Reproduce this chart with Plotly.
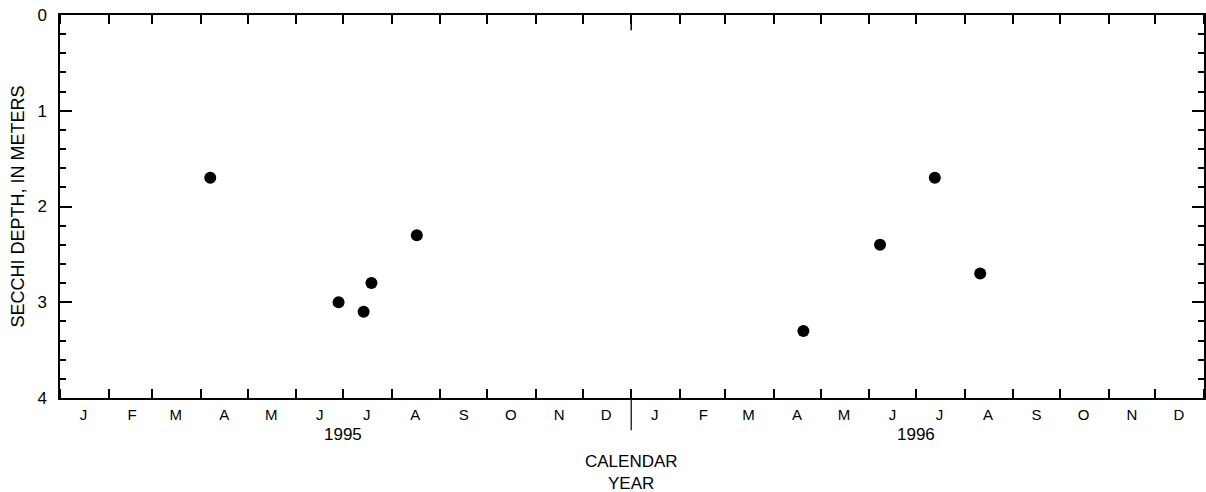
import plotly.graph_objects as go

dates = ["1995-04-07", "1995-06-28", "1995-07-14", "1995-07-19", "1995-08-17",
         "1996-04-20", "1996-06-08", "1996-07-13", "1996-08-11"]
depth = [1.7, 3.0, 3.1, 2.8, 2.3, 3.3, 2.4, 1.7, 2.7]

month_letters = ["J", "F", "M", "A", "M", "J", "J", "A", "S", "O", "N", "D"]
years = [1995, 1996]

tickvals = []
ticktext = []
for y in years:
    for m, lab in enumerate(month_letters, start=1):
        tickvals.append(f"{y}-{m:02d}-16")
        ticktext.append(lab)

fnt = "Liberation Sans, Arial, Helvetica, sans-serif"

fig = go.Figure()
fig.add_trace(go.Scatter(x=dates, y=depth, mode="markers",
                         marker=dict(color="black", size=12, symbol="circle"),
                         showlegend=False))

fig.update_layout(
    width=1206, height=492,
    margin=dict(l=60, r=2, t=15, b=94),
    paper_bgcolor="white", plot_bgcolor="white",
    font=dict(family=fnt, size=12, color="black"),
    xaxis=dict(
        type="date", range=["1995-01-01", "1997-01-01"],
        tickmode="array", tickvals=tickvals, ticktext=ticktext,
        ticks="", showgrid=False, zeroline=False, automargin=False,
        showline=True, linecolor="black", linewidth=1.5, mirror="allticks",
        tickfont=dict(size=15), ticklabelstandoff=2,
        minor=dict(ticks="inside", tick0="1995-01-01", dtick="M1",
                   ticklen=9, tickcolor="black", tickwidth=1.5, showgrid=False),
    ),
    yaxis=dict(
        range=[4, 0], tickmode="array", tickvals=[0, 1, 2, 3, 4],
        ticktext=["0", "1", "2", "3", "4"],
        ticks="inside", ticklen=12, tickwidth=1.5, tickcolor="black",
        showgrid=False, zeroline=False, automargin=False,
        showline=True, linecolor="black", linewidth=1.5, mirror="allticks",
        tickfont=dict(size=17), ticklabelstandoff=8,
        minor=dict(ticks="inside", dtick=0.2, tick0=0, ticklen=6,
                   tickcolor="black", tickwidth=1.5, showgrid=False),
        title=dict(text="SECCHI DEPTH, IN METERS", font=dict(size=18), standoff=8),
    ),
)

# year divider
fig.add_shape(type="line", xref="x", yref="paper", x0="1996-01-01", x1="1996-01-01",
              y0=-0.084, y1=0, line=dict(color="black", width=1.2))
fig.add_shape(type="line", xref="x", yref="paper", x0="1996-01-01", x1="1996-01-01",
              y0=0.96, y1=1, line=dict(color="black", width=1.5))

for y in years:
    fig.add_annotation(x=f"{y}-07-01", y=-0.0966, xref="x", yref="paper",
                       text=str(y), showarrow=False, yanchor="middle",
                       font=dict(size=17))

fig.add_annotation(x="1996-01-01", y=-0.167, xref="x", yref="paper",
                   text="CALENDAR", showarrow=False, yanchor="middle",
                   font=dict(size=17))
fig.add_annotation(x="1996-01-01", y=-0.222, xref="x", yref="paper",
                   text="YEAR", showarrow=False, yanchor="middle",
                   font=dict(size=17))

fig.write_html("out.html", config={"responsive": False, "displayModeBar": False},
               post_script="document.body.style.margin='0';document.body.style.overflow='hidden';")
